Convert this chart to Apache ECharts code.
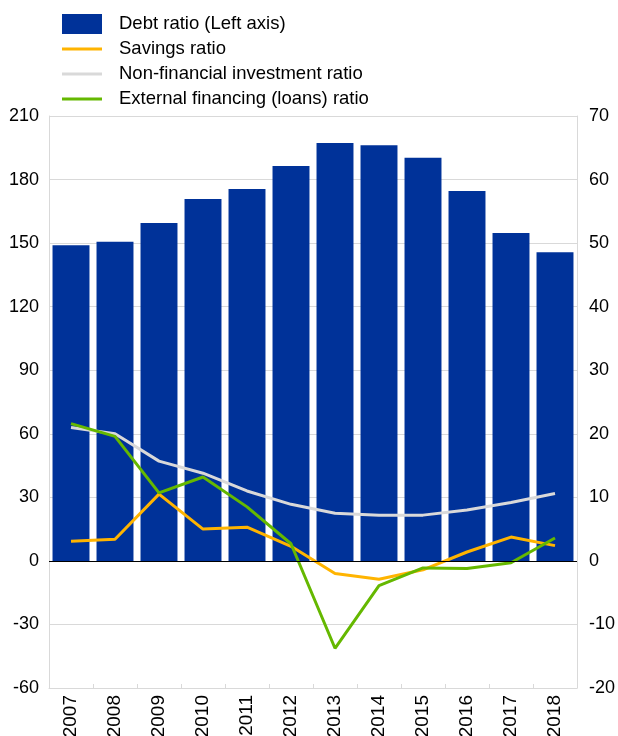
<!DOCTYPE html>
<html><head><meta charset="utf-8">
<script src="https://cdn.jsdelivr.net/npm/echarts@6/dist/echarts.min.js"></script>
<style>html,body{margin:0;padding:0;background:#fff}#c{width:618px;height:736px}</style>
</head><body><div id="c"></div>
<script>
const categories = ['2007','2008','2009','2010','2011','2012','2013','2014','2015','2016','2017','2018'];
const debtRatio = [149, 150.6, 159.5, 170.8, 175.6, 186.4, 197.3, 196.2, 190.3, 174.6, 154.8, 145.7];
const savingsRatio = [3.1, 3.4, 10.5, 5.0, 5.3, 2.3, -2.0, -2.9, -1.4, 1.4, 3.75, 2.4];
const nonFinInvRatio = [21.0, 20.0, 15.7, 13.8, 11.0, 8.9, 7.5, 7.2, 7.2, 8.0, 9.2, 10.6];
const extFinRatio = [21.6, 19.6, 10.7, 13.2, 8.5, 2.7, -13.75, -3.9, -1.1, -1.2, -0.3, 3.6];
const leftTicks = {min: -60, max: 210, interval: 30};
const rightTicks = {min: -20, max: 70, interval: 10};

const font = 'Liberation Sans, Arial, sans-serif';
const lineIcon = 'path://M0,0h0.01v0.01h-0.01Z M0,8.5h40v3h-40Z M39.99,19.99h0.01v0.01h-0.01Z';
const chart = echarts.init(document.getElementById('c'));
chart.setOption({
  animation: false,
  textStyle: {fontFamily: font},
  legend: {
    orient: 'vertical', left: 57, top: 9,
    itemWidth: 40, itemHeight: 20, itemGap: 5,
    textStyle: {fontSize: 18.5, color: '#000', fontFamily: font, padding: [0,0,0,12]},
    data: [
      {name: 'Debt ratio (Left axis)', icon: 'rect'},
      {name: 'Savings ratio', icon: lineIcon},
      {name: 'Non-financial investment ratio', icon: lineIcon},
      {name: 'External financing (loans) ratio', icon: lineIcon}
    ]
  },
  grid: {left: 49, right: 41, top: 116, bottom: 48, outerBoundsMode: 'none', containLabel: false},
  xAxis: {
    type: 'category', data: categories,
    axisLine: {onZero: false, lineStyle: {color: '#d9d9d9'}},
    axisTick: {show: true, inside: true, length: 4, lineStyle: {color: '#d9d9d9'}},
    axisLabel: {rotate: 90, fontSize: 19, color: '#000', margin: 7, fontFamily: font}
  },
  yAxis: [
    {type: 'value', min: leftTicks.min, max: leftTicks.max, interval: leftTicks.interval,
     axisLine: {show: true, lineStyle: {color: '#d9d9d9'}}, axisTick: {show: false},
     axisLabel: {fontSize: 18, color: '#000', margin: 10, fontFamily: font},
     splitLine: {lineStyle: {color: '#d9d9d9'}}},
    {type: 'value', min: rightTicks.min, max: rightTicks.max, interval: rightTicks.interval,
     axisLine: {show: true, lineStyle: {color: '#d9d9d9'}}, axisTick: {show: false},
     axisLabel: {fontSize: 18, color: '#000', margin: 12, fontFamily: font},
     splitLine: {show: false}}
  ],
  series: [
    {name: 'Debt ratio (Left axis)', type: 'bar', data: debtRatio, yAxisIndex: 0,
     barCategoryGap: '16%', itemStyle: {color: '#003299'},
     markLine: {silent: true, symbol: 'none', label: {show: false},
       lineStyle: {color: '#000', width: 1, type: 'solid'}, data: [{yAxis: 0}]}},
    {name: 'Savings ratio', type: 'line', data: savingsRatio, yAxisIndex: 1,
     symbol: 'none', lineStyle: {color: '#ffb400', width: 3}, itemStyle: {color: '#ffb400'}},
    {name: 'Non-financial investment ratio', type: 'line', data: nonFinInvRatio, yAxisIndex: 1,
     symbol: 'none', lineStyle: {color: '#d9d9d9', width: 3}, itemStyle: {color: '#d9d9d9'}},
    {name: 'External financing (loans) ratio', type: 'line', data: extFinRatio, yAxisIndex: 1,
     symbol: 'none', lineStyle: {color: '#65b800', width: 3}, itemStyle: {color: '#65b800'}}
  ]
});
</script></body></html>
